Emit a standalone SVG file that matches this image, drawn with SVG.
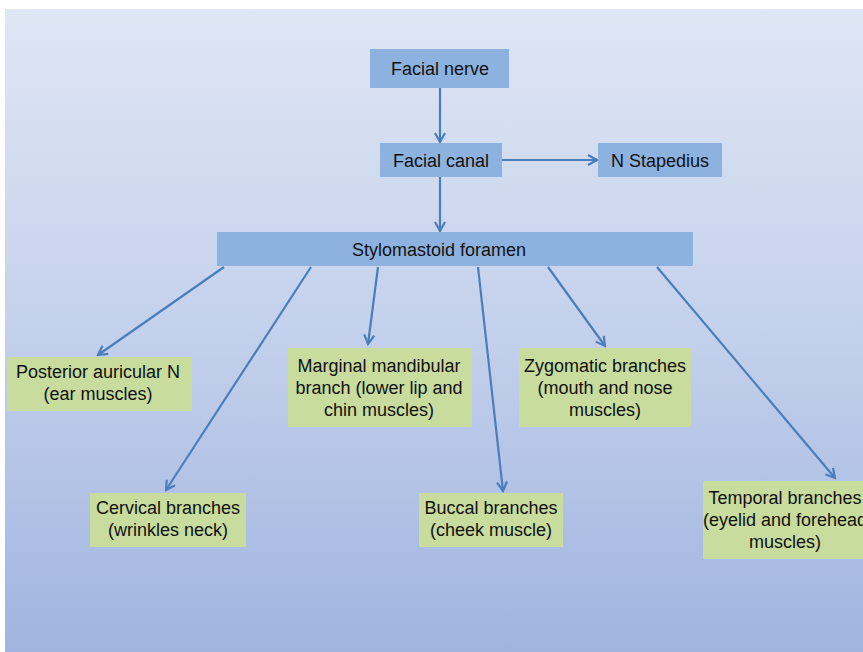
<svg xmlns="http://www.w3.org/2000/svg" width="863" height="652" viewBox="0 0 863 652">
  <defs>
    <linearGradient id="bg" x1="0" y1="0" x2="0" y2="1">
      <stop offset="0" stop-color="#dfe6f4"/>
      <stop offset="0.5" stop-color="#c4d1ec"/>
      <stop offset="1" stop-color="#a0b4df"/>
    </linearGradient>
    <marker id="arrow" viewBox="0 0 12 12" refX="10" refY="6" markerWidth="12" markerHeight="12" markerUnits="userSpaceOnUse" orient="auto">
      <path d="M1,1 L10,6 L1,11" fill="none" stroke="#4a7ebb" stroke-width="2.2" stroke-linejoin="miter"/>
    </marker>
  </defs>
  <style>
    .blue { fill: #8eb2df; }
    .green { fill: #c8dc9e; }
    text { font-family: "Liberation Sans", Arial, sans-serif; font-size: 18px; fill: #111; text-anchor: middle; }
    .conn line { stroke: #4a7ebb; stroke-width: 2.2; marker-end: url(#arrow); }
  </style>

  <rect x="0" y="0" width="863" height="652" fill="#ffffff"/>
  <rect x="5" y="9" width="858" height="643" fill="url(#bg)"/>

  <g class="conn" id="connectors">
    <line x1="440" y1="88" x2="440" y2="142"/>
    <line x1="502" y1="160" x2="597" y2="160"/>
    <line x1="440" y1="177" x2="440" y2="231"/>
    <line x1="224" y1="267" x2="98" y2="355"/>
    <line x1="311" y1="267" x2="166" y2="490"/>
    <line x1="378" y1="267" x2="368" y2="344"/>
    <line x1="478" y1="267" x2="503" y2="491"/>
    <line x1="548" y1="267" x2="605" y2="346"/>
    <line x1="657" y1="267" x2="835" y2="478"/>
  </g>

  <g id="facial-nerve">
    <rect class="blue" x="370" y="49" width="139" height="39"/>
    <text x="440" y="75">Facial nerve</text>
  </g>
  <g id="facial-canal">
    <rect class="blue" x="380" y="143" width="122" height="34"/>
    <text x="441" y="167">Facial canal</text>
  </g>
  <g id="n-stapedius">
    <rect class="blue" x="598" y="143" width="124" height="34"/>
    <text x="660" y="167">N Stapedius</text>
  </g>
  <g id="stylomastoid-foramen">
    <rect class="blue" x="217" y="232" width="476" height="34"/>
    <text x="439" y="256">Stylomastoid foramen</text>
  </g>

  <g id="posterior-auricular">
    <rect class="green" x="7" y="357" width="185" height="54"/>
    <text x="98" y="378">Posterior auricular N</text>
    <text x="98" y="400">(ear muscles)</text>
  </g>
  <g id="cervical-branches">
    <rect class="green" x="90" y="493" width="156" height="54"/>
    <text x="168" y="514">Cervical branches</text>
    <text x="168" y="536">(wrinkles neck)</text>
  </g>
  <g id="marginal-mandibular">
    <rect class="green" x="288" y="348" width="184" height="79"/>
    <text x="379" y="372">Marginal mandibular</text>
    <text x="379" y="394">branch (lower lip and</text>
    <text x="379" y="416">chin muscles)</text>
  </g>
  <g id="buccal-branches">
    <rect class="green" x="419" y="493" width="144" height="54"/>
    <text x="491" y="514">Buccal branches</text>
    <text x="491" y="536">(cheek muscle)</text>
  </g>
  <g id="zygomatic-branches">
    <rect class="green" x="519" y="348" width="172" height="79"/>
    <text x="605" y="372">Zygomatic branches</text>
    <text x="605" y="394">(mouth and nose</text>
    <text x="605" y="416">muscles)</text>
  </g>
  <g id="temporal-branches">
    <rect class="green" x="703" y="481" width="160" height="78"/>
    <text x="785" y="504">Temporal branches</text>
    <text x="785" y="526">(eyelid and forehead</text>
    <text x="785" y="548">muscles)</text>
  </g>
</svg>
